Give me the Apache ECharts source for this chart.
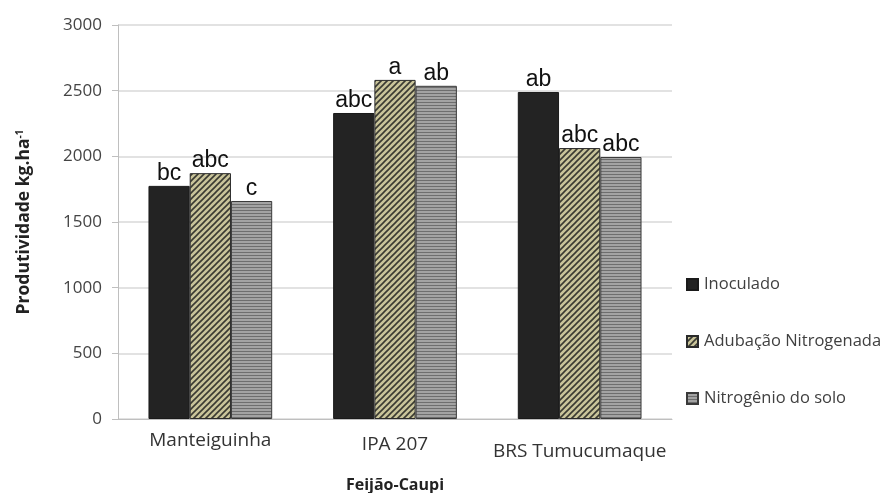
<!DOCTYPE html>
<html>
<head>
<meta charset="utf-8">
<script src="https://cdn.jsdelivr.net/npm/echarts@6/dist/echarts.min.js"></script>
<style>
  html, body { margin: 0; padding: 0; background: #fff; }
  #chart { width: 889px; height: 493px; }
</style>
</head>
<body>
<div id="chart"></div>
<script>
var categories = ['Manteiguinha', 'IPA 207', 'BRS Tumucumaque'];
var seriesNames = ['Inoculado', 'Adubação Nitrogenada', 'Nitrogênio do solo'];
var inoculado = [1775, 2330, 2490];
var adubacao = [1872, 2582, 2063];
var nitrogenio = [1660, 2537, 1995];
var letrasInoculado = ['bc', 'abc', 'ab'];
var letrasAdubacao = ['abc', 'a', 'abc'];
var letrasNitrogenio = ['c', 'ab', 'abc'];
var yTicks = [0, 500, 1000, 1500, 2000, 2500, 3000];

// diagonal hatch (///) on khaki
function hatchPattern () {
  var c = document.createElement('canvas');
  c.width = 6; c.height = 6;
  var ctx = c.getContext('2d');
  ctx.fillStyle = '#c9c49a';
  ctx.fillRect(0, 0, 6, 6);
  ctx.strokeStyle = '#3a3a32';
  ctx.lineWidth = 1.6;
  ctx.beginPath();
  ctx.moveTo(-1, 7); ctx.lineTo(7, -1);
  ctx.moveTo(-4, 4); ctx.lineTo(4, -4);
  ctx.moveTo(2, 10); ctx.lineTo(10, 2);
  ctx.stroke();
  return c;
}
// horizontal stripes in grey
function stripePattern () {
  var c = document.createElement('canvas');
  c.width = 4; c.height = 3;
  var ctx = c.getContext('2d');
  ctx.fillStyle = '#a3a3a3';
  ctx.fillRect(0, 0, 4, 3);
  ctx.fillStyle = '#6e6e6e';
  ctx.fillRect(0, 0, 4, 1);
  return c;
}

var chart = echarts.init(document.getElementById('chart'));

function labelOpt (letters) {
  return {
    show: true,
    position: 'top',
    distance: 1,
    color: '#111',
    fontFamily: 'Liberation Sans',
    fontSize: 23,
    formatter: function (p) { return letters[p.dataIndex]; }
  };
}

var barBase = {
  type: 'bar',
  barGap: '0%',
  barCategoryGap: '33%'
};

var opt = {
  animation: false,
  grid: { left: 118, right: 217, top: 25, bottom: 74, outerBoundsMode: 'none' },
  legend: [0, 1, 2].map(function (i) {
    return {
      data: [seriesNames[i]],
      left: 686,
      top: [276, 333, 390][i],
      padding: 0,
      itemWidth: 11,
      itemHeight: 11,
      icon: 'rect',
      textStyle: { fontFamily: 'Open Sans', fontSize: 16.5, color: '#404040', padding: [0, 0, 0, 1] }
    };
  }),
  xAxis: {
    type: 'category',
    data: categories,
    name: 'Feijão-Caupi',
    nameLocation: 'middle',
    nameGap: 58,
    nameTextStyle: { fontFamily: 'Open Sans', fontSize: 16, fontWeight: 'bold', color: '#222' },
    axisLine: { lineStyle: { color: '#bfbfbf' } },
    axisTick: { show: false },
    axisLabel: {
      margin: 12,
      formatter: function (v, i) { return '{c' + i + '|' + v + '}'; },
      rich: {
        c0: { fontFamily: 'Open Sans', fontSize: 19, color: '#333', padding: [0, 0, 0, 0] },
        c1: { fontFamily: 'Open Sans', fontSize: 19, color: '#333', padding: [4, 0, 0, 0] },
        c2: { fontFamily: 'Open Sans', fontSize: 19, color: '#333', padding: [11, 0, 0, 0] }
      }
    }
  },
  yAxis: {
    type: 'value',
    min: 0,
    max: 3000,
    interval: 500,
    name: '{t|Produtividade kg.ha}{s|-1}',
    nameLocation: 'middle',
    nameGap: 84,
    nameTextStyle: {
      rich: {
        t: { fontFamily: 'Open Sans', fontSize: 17.5, fontWeight: 'bold', color: '#222' },
        s: { fontFamily: 'Open Sans', fontSize: 10, fontWeight: 'bold', color: '#222', verticalAlign: 'top', padding: [0, 0, 9, 0] }
      }
    },
    axisLine: { show: true, lineStyle: { color: '#bfbfbf' } },
    axisTick: { show: true, length: 6, lineStyle: { color: '#bfbfbf' } },
    axisLabel: {
      fontFamily: 'Open Sans', fontSize: 17, color: '#444', margin: 16,
      formatter: function (v) { return yTicks.indexOf(v) >= 0 ? String(v) : ''; }
    },
    splitLine: { lineStyle: { color: '#d9d9d9', width: 1.5 } }
  },
  series: [
    Object.assign({}, barBase, {
      name: seriesNames[0],
      data: inoculado,
      itemStyle: { color: '#232323', borderColor: '#1a1a1a', borderWidth: 1 },
      label: labelOpt(letrasInoculado)
    }),
    Object.assign({}, barBase, {
      name: seriesNames[1],
      data: adubacao,
      itemStyle: { color: { image: hatchPattern(), repeat: 'repeat' }, borderColor: '#2a2a2a', borderWidth: 1 },
      label: labelOpt(letrasAdubacao)
    }),
    Object.assign({}, barBase, {
      name: seriesNames[2],
      data: nitrogenio,
      itemStyle: { color: { image: stripePattern(), repeat: 'repeat' }, borderColor: '#3a3a3a', borderWidth: 1 },
      label: labelOpt(letrasNitrogenio)
    })
  ]
};

chart.setOption(opt);
</script>
</body>
</html>
